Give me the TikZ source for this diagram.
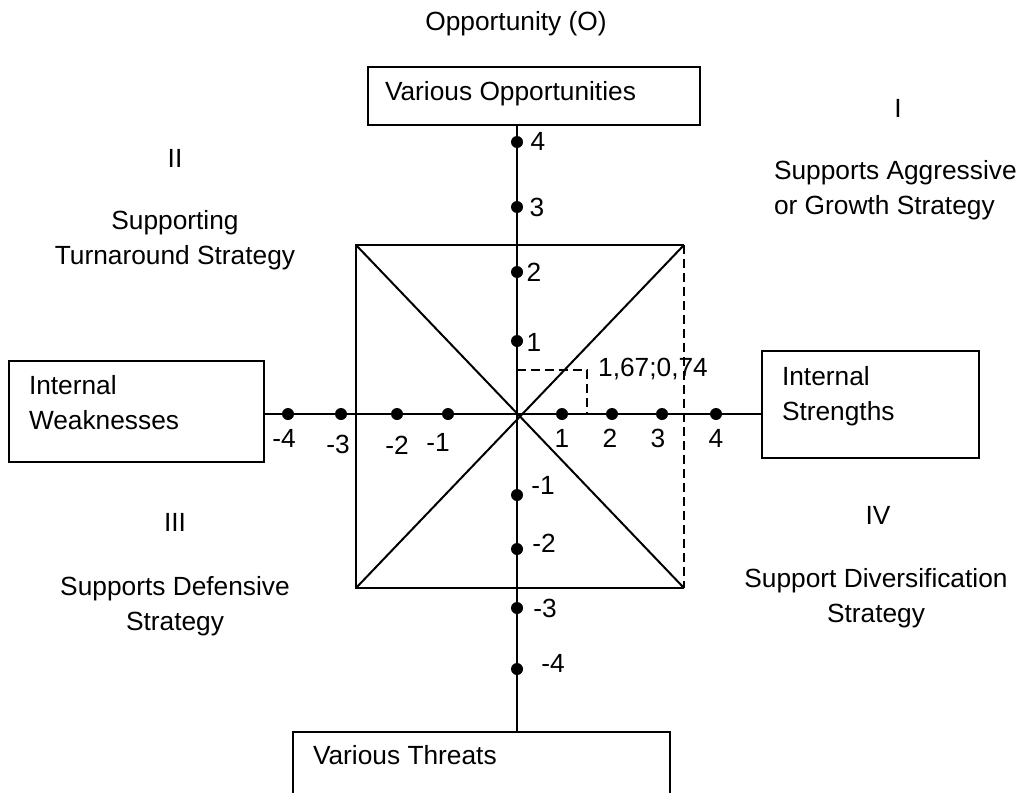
\documentclass[tikz,border=0pt]{standalone}
\usepackage{fontspec}
\setmainfont{Liberation Sans}
\begin{document}
\begin{tikzpicture}[
  x=1pt, y=-1pt,
  line width=2pt,
  line cap=butt, line join=miter,
  sqdash/.style={dash pattern=on 9pt off 5pt},
  boxframe/.style={draw, line width=2.2pt},
  axisdot/.style={circle, fill, minimum size=12pt},
  every node/.style={inner sep=0pt, font=\fontsize{26.3pt}{35pt}\selectfont}
]
  \useasboundingbox (0,0) rectangle (1019,792);
  % ---- origin and square corners ----
  \coordinate (O)  at (517,414);
  \coordinate (tl) at (356,245);
  \coordinate (tr) at (684,245);
  \coordinate (bl) at (356,588);
  \coordinate (br) at (684,588);
  \coordinate (P)  at (587,370);
  % ---- boxes ----
  \node[boxframe, minimum width=332pt, minimum height=58pt]  (obox) at (534,96) {};
  \node[boxframe, minimum width=255pt, minimum height=101pt] (wbox) at (136.5,411.5) {};
  \node[boxframe, minimum width=217pt, minimum height=107pt] (sbox) at (870.5,404.5) {};
  \node[boxframe, minimum width=377pt, minimum height=100pt] (tbox) at (481.5,782) {};
  % ---- box texts ----
  \node[anchor=base west] (otxt) at (384,100) {Various Opportunities};
  \node[anchor=west, align=left] (wtxt) at (28,403) {Internal\\Weaknesses};
  \node[anchor=west, align=left] (stxt) at (781,396) {Internal\\Strengths};
  \node[anchor=base west] (ttxt) at (312,764) {Various Threats};
  % ---- axes ----
  \draw (obox.south -| O) -- (tbox.north -| O);
  \draw (wbox.east |- O) -- (sbox.west |- O);
  % ---- square, diagonals, dashed right side ----
  \draw (tr) -- (tl) -- (bl) -- (br);
  \draw[sqdash] (tr) -- (br);
  \draw (tl) -- (br);
  \draw (bl) -- (tr);
  % ---- point 1,67;0,74 ----
  \draw[sqdash] (O |- P) -- (P) -- (P |- O);
  \node (pval) at (653,369) {1,67;0,74};
  % ---- scale dots, vertical axis ----
  \foreach \nm/\t/\y/\lx/\ly in {vp4/4/142/538/141, vp3/3/207/537/207,
      vp2/2/272/534/272, vp1/1/341/534/342, vm1/-1/495/543/485,
      vm2/-2/549/544/543, vm3/-3/608/545/608, vm4/-4/669/553/663}{
    \node[axisdot] (\nm) at (517,\y) {};
    \node (l\nm) at (\lx,\ly) {\t};
  }
  % ---- scale dots, horizontal axis ----
  \foreach \nm/\t/\x/\lx/\ly in {hm4/-4/288/284/438, hm3/-3/341/338/444,
      hm2/-2/397/397/445, hm1/-1/448/438/442, hp1/1/562/562/438,
      hp2/2/612/610/438, hp3/3/662/658/438, hp4/4/716/716/438}{
    \node[axisdot] (\nm) at (\x,414) {};
    \node (l\nm) at (\lx,\ly) {\t};
  }
  % ---- headings and quadrants ----
  \node (otitle) at (516,24) {Opportunity (O)};
  \node (q1) at (898,108) {I};
  \node[anchor=west, align=left] (q1txt) at (773,190) {Supports Aggressive\\or Growth Strategy};
  \node (q2) at (175,158) {II};
  \node[align=center] (q2txt) at (175,240) {Supporting\\Turnaround Strategy};
  \node (q3) at (175,522) {III};
  \node[align=center] (q3txt) at (175,606) {Supports Defensive\\Strategy};
  \node (q4) at (878,515) {IV};
  \node[align=center] (q4txt) at (876,598) {Support Diversification\\Strategy};
\end{tikzpicture}
\end{document}
